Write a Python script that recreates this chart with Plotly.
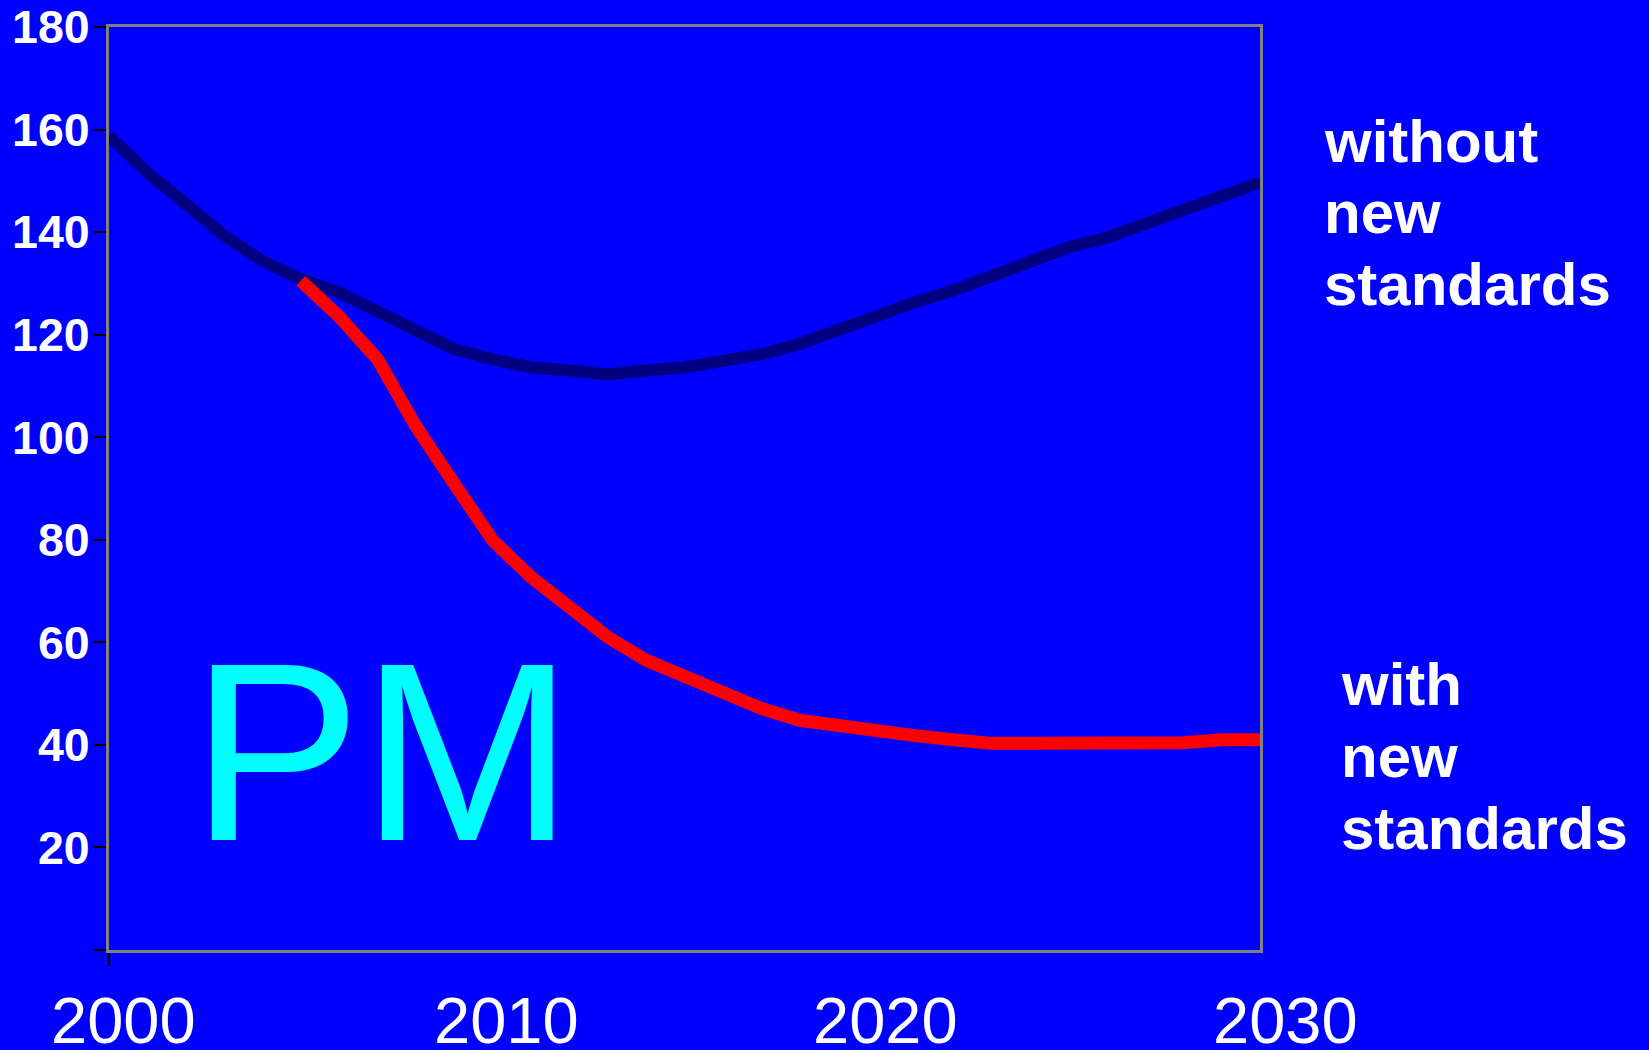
import plotly.graph_objects as go

# ---- data ----
years = list(range(2000, 2031))
without_new_standards = [158.8, 151.6, 145.5, 139.3, 134.4, 130.8, 128.2, 124.7, 120.8, 117.2,
                         115.2, 113.6, 113.0, 112.3, 113.0, 113.6, 114.9, 116.2, 118.2, 121.1,
                         124.0, 126.3, 128.6, 131.4, 134.2, 137.0, 138.9, 141.6, 144.3, 147.0,
                         149.7]
years_with = list(range(2005, 2031))
with_new_standards = [130.5, 123.5, 115.2, 102.1, 90.9, 79.9, 72.7, 67.2, 61.0, 56.5,
                      53.4, 49.9, 47.1, 44.8, 43.7, 42.5, 41.8, 41.0, 40.3, 40.3,
                      40.3, 40.3, 40.4, 40.4, 41.0, 41.0]
y_tick_vals = [0, 20, 40, 60, 80, 100, 120, 140, 160, 180]
y_tick_text = ["", "20", "40", "60", "80", "100", "120", "140", "160", "180"]
x_year_labels = ["2000", "2010", "2020", "2030"]

# ---- layout geometry (pixels) ----
W, H = 1649, 1050
L, R, T, B = 109, 389, 27, 100
PW, PH = W - L - R, H - T - B


def px_x(x):
    return (x - L) / PW


def px_y(y):
    return (H - B - y) / PH


BG = "#0000FF"
FONT = "Liberation Sans, Arial"
fig = go.Figure()
fig.add_trace(go.Scatter(x=years, y=without_new_standards, mode="lines",
                         line=dict(color="#000080", width=12), name="without new standards",
                         showlegend=False))
fig.add_trace(go.Scatter(x=years_with, y=with_new_standards, mode="lines",
                         line=dict(color="#FF0000", width=13), name="with new standards",
                         showlegend=False))

annotations = []
# x-axis year labels (separate text boxes below the plot)
x_label_px = [123, 506, 885, 1285]
for txt, cx in zip(x_year_labels, x_label_px):
    annotations.append(dict(text=txt, x=px_x(cx), y=px_y(1020), xref="paper", yref="paper",
                            xanchor="center", yanchor="middle", showarrow=False,
                            font=dict(family=FONT, size=65, color="white")))

# right-hand labels
for i, line in enumerate(["without", "new", "standards"]):
    annotations.append(dict(text="<b>%s</b>" % line, x=px_x(1322), y=px_y(141 + 71.5 * i),
                            xref="paper", yref="paper", xanchor="left", yanchor="middle",
                            showarrow=False,
                            font=dict(family=FONT, size=60, color="white")))
for i, line in enumerate(["with", "new", "standards"]):
    annotations.append(dict(text="<b>%s</b>" % line, x=px_x(1339), y=px_y(684 + 72 * i),
                            xref="paper", yref="paper", xanchor="left", yanchor="middle",
                            showarrow=False,
                            font=dict(family=FONT, size=60, color="white")))

# PM label
annotations.append(dict(text="PM", x=px_x(382), y=px_y(751), xref="paper", yref="paper",
                        xanchor="center", yanchor="middle", showarrow=False,
                        font=dict(family=FONT, size=255, color="#00FFFF")))

fig.update_layout(
    width=W, height=H,
    margin=dict(l=L, r=R, t=T, b=B, pad=0, autoexpand=False),
    paper_bgcolor=BG, plot_bgcolor=BG,
    annotations=annotations,
    showlegend=False,
)
fig.update_xaxes(range=[2000, 2030], showgrid=False, zeroline=False, automargin=False,
                 showline=True, linecolor="#808080", linewidth=3, mirror=True,
                 ticks="outside", tickvals=[2000], ticktext=[""], ticklen=13,
                 tickcolor="black", tickwidth=1.5)
fig.update_yaxes(range=[0, 180], showgrid=False, zeroline=False, automargin=False,
                 showline=True, linecolor="#808080", linewidth=3, mirror=True,
                 ticks="outside", tickvals=y_tick_vals, ticktext=y_tick_text, ticklen=13,
                 tickcolor="black", tickwidth=1.5, ticklabeloverflow="allow",
                 ticklabelstandoff=-6,
                 tickfont=dict(family=FONT, size=46.5, color="white", weight="bold"))

fig.write_html("out.html")
